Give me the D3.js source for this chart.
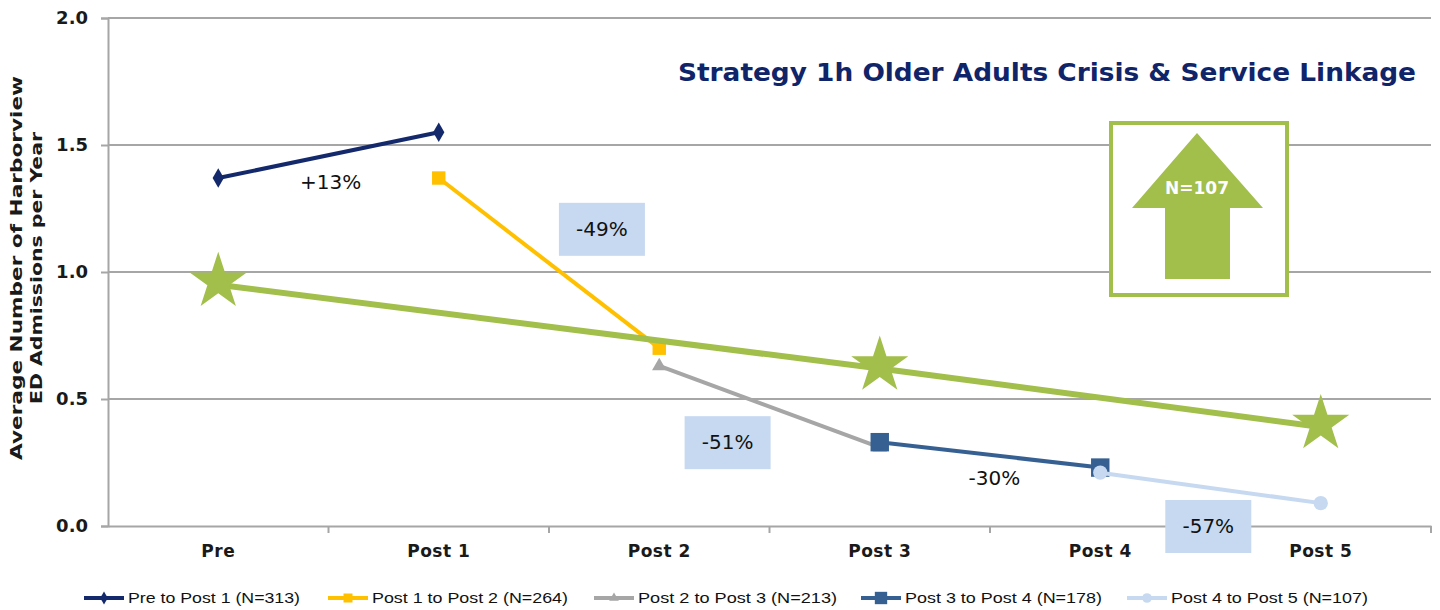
<!DOCTYPE html>
<html>
<head>
<meta charset="utf-8">
<script src="https://cdn.jsdelivr.net/npm/d3@7"></script>
<style>
  body { margin: 0; background: #fff; }
  svg { display: block; }
</style>
</head>
<body>
<div id="chart"></div>
<script>
// categories and values
const categories = ["Pre", "Post 1", "Post 2", "Post 3", "Post 4", "Post 5"];
const yTicks = [0, 0.5, 1.0, 1.5, 2.0];

const preToPost1 = [1.37, 1.55, null, null, null, null];
const post1ToPost2 = [null, 1.37, 0.70, null, null, null];
const post2ToPost3 = [null, null, 0.63, 0.31, null, null];
const post3ToPost4 = [null, null, null, 0.33, 0.23, null];
const post4ToPost5 = [null, null, null, null, 0.21, 0.09];
const trendN107 = [0.95, null, null, 0.62, null, 0.39];

const seriesNames = ["Pre to Post 1 (N=313)", "Post 1 to Post 2 (N=264)", "Post 2 to Post 3 (N=213)",
    "Post 3 to Post 4 (N=178)", "Post 4 to Post 5 (N=107)"];
const changeLabels = ["+13%", "-49%", "-51%", "-30%", "-57%"];
const changeBoxed = [false, true, true, false, true];

// styling
const series = [
    { values: preToPost1, color: "#13296b", symbol: d3.symbolDiamond, size: 110 },
    { values: post1ToPost2, color: "#ffc000", symbol: d3.symbolSquare, size: 180 },
    { values: post2ToPost3, color: "#a6a6a6", symbol: d3.symbolTriangle, size: 90 },
    { values: post3ToPost4, color: "#376092", symbol: d3.symbolSquare, size: 340 },
    { values: post4ToPost5, color: "#c6d9f1", symbol: d3.symbolCircle, size: 160 }
];
const green = "#a2be4b";

// where each change label sits: [category offset, y value]
const labelAnchor = [[0.51, 1.355], [1.74, 1.17], [2.31, 0.33], [3.52, 0.19], [4.49, 0.0]];

var width = 1440, height = 610;
var margin = { top: 18, right: 9, bottom: 84, left: 108 };
var font = "DejaVu Sans, Verdana, sans-serif";

var svg = d3.select("#chart").append("svg")
    .attr("width", width)
    .attr("height", height);

var x = d3.scaleBand()
    .domain(categories)
    .range([margin.left, width - margin.right])
    .padding(0);
var cx = function (i) { return x(categories[i]) + x.bandwidth() / 2; };

var y = d3.scaleLinear()
    .domain([0, 2])
    .range([height - margin.bottom, margin.top]);

// gridlines
svg.append("g")
    .selectAll("line")
    .data(yTicks.filter(d => d > 0))
    .enter().append("line")
    .attr("x1", margin.left)
    .attr("x2", width - margin.right)
    .attr("y1", d => y(d))
    .attr("y2", d => y(d))
    .style("stroke", "#a6a6a6")
    .style("stroke-width", 2);

// y axis
var yAxis = svg.append("g")
    .attr("transform", "translate(" + margin.left + ",0)")
    .call(d3.axisLeft(y).tickValues(yTicks).tickFormat(d3.format(".1f")).tickSize(7).tickPadding(13));
yAxis.select(".domain").style("stroke", "#a6a6a6").style("stroke-width", 2);
yAxis.selectAll(".tick line").style("stroke", "#a6a6a6").style("stroke-width", 2);
yAxis.selectAll("text")
    .style("font-family", font)
    .style("font-weight", "bold")
    .style("font-size", "18px")
    .style("fill", "#1a1a1a");

// x axis
var xAxis = svg.append("g")
    .attr("transform", "translate(0," + y(0) + ")")
    .call(d3.axisBottom(x).tickSize(0).tickPadding(19).tickSizeOuter(0));
xAxis.select(".domain").style("stroke", "#a6a6a6").style("stroke-width", 2);
xAxis.selectAll("text")
    .style("font-family", font)
    .style("font-weight", "bold")
    .style("font-size", "17px")
    .style("letter-spacing", "0.5px")
    .style("fill", "#1a1a1a");
xAxis.selectAll(".bound")
    .data(categories.map(c => x(c) + x.bandwidth()))
    .enter().append("line")
    .attr("class", "bound")
    .attr("x1", d => d).attr("x2", d => d)
    .attr("y1", 0).attr("y2", 7)
    .style("stroke", "#a6a6a6")
    .style("stroke-width", 2);

// y axis title
var yTitle = svg.append("text")
    .attr("transform", "translate(24," + (y(1) - 4) + ") rotate(-90)")
    .attr("text-anchor", "middle")
    .style("font-family", font)
    .style("font-weight", "bold")
    .style("font-size", "16px")
    .style("fill", "#1a1a1a");
yTitle.append("tspan").attr("x", 0).attr("dy", -2)
    .attr("textLength", 384).attr("lengthAdjust", "spacingAndGlyphs")
    .text("Average Number of Harborview");
yTitle.append("tspan").attr("x", 0).attr("dy", 20)
    .attr("textLength", 272).attr("lengthAdjust", "spacingAndGlyphs")
    .text("ED Admissions per Year");

// change label boxes
var labels = svg.append("g");
changeLabels.forEach(function (t, i) {
    var px = cx(0) + labelAnchor[i][0] * x.bandwidth();
    var py = y(labelAnchor[i][1]);
    if (changeBoxed[i]) {
        labels.append("rect")
            .attr("x", px - 43).attr("y", py - 26)
            .attr("width", 86).attr("height", 53)
            .style("fill", "#c6d9f1");
    }
    labels.append("text")
        .attr("x", px).attr("y", py)
        .attr("dy", "0.36em")
        .attr("text-anchor", "middle")
        .style("font-family", font)
        .style("font-size", "20px")
        .style("fill", "#111")
        .text(t);
});

// series lines + markers
var line = d3.line()
    .defined(d => d != null)
    .x((d, i) => cx(i))
    .y(d => y(d));

series.forEach(function (s) {
    svg.append("path")
        .datum(s.values)
        .attr("d", line)
        .style("fill", "none")
        .style("stroke", s.color)
        .style("stroke-width", 4);
    svg.append("g")
        .selectAll("path")
        .data(s.values.map((v, i) => ({ v: v, i: i })).filter(d => d.v != null))
        .enter().append("path")
        .attr("transform", d => "translate(" + cx(d.i) + "," + y(d.v) + ")")
        .attr("d", d3.symbol().type(s.symbol).size(s.size))
        .style("fill", s.color);
});

// green trend with stars (line drawn across the gaps)
var trendPts = trendN107.map((v, i) => ({ v: v, i: i })).filter(d => d.v != null);
svg.append("path")
    .datum(trendPts)
    .attr("d", d3.line().x(d => cx(d.i)).y(d => y(d.v)))
    .style("fill", "none")
    .style("stroke", green)
    .style("stroke-width", 6);
svg.append("g")
    .selectAll("path")
    .data(trendPts)
    .enter().append("path")
    .attr("transform", d => "translate(" + cx(d.i) + "," + (y(d.v) - 3) + ")")
    .attr("d", d3.symbol().type(d3.symbolStar).size(1010))
    .style("fill", green);

// title
svg.append("text")
    .attr("x", 1416).attr("y", 81)
    .attr("text-anchor", "end")
    .attr("textLength", 738).attr("lengthAdjust", "spacingAndGlyphs")
    .style("font-family", font)
    .style("font-weight", "bold")
    .style("font-size", "24px")
    .style("fill", "#10246a")
    .text("Strategy 1h Older Adults Crisis & Service Linkage");

// N=107 arrow box
var box = svg.append("g").attr("transform", "translate(1199,208)");
box.append("rect")
    .attr("x", -88).attr("y", -85)
    .attr("width", 176).attr("height", 172)
    .style("fill", "#fff")
    .style("stroke", green)
    .style("stroke-width", 4);
box.append("path")
    .attr("d", "M-2,-75 L64,0 L31,0 L31,71 L-34,71 L-34,0 L-67,0 Z")
    .style("fill", green);
box.append("text")
    .attr("x", -2).attr("y", -20)
    .attr("dy", "0.36em")
    .attr("text-anchor", "middle")
    .style("font-family", font)
    .style("font-weight", "bold")
    .style("font-size", "17px")
    .style("fill", "#fff")
    .text("N=107");

// legend
var legendX = [84, 328, 594, 861, 1127];
var legendW = [172, 196, 199, 197, 197];
var legend = svg.append("g").attr("transform", "translate(0,598)");
series.forEach(function (s, i) {
    var g = legend.append("g").attr("transform", "translate(" + legendX[i] + ",0)");
    g.append("line")
        .attr("x1", 0).attr("x2", 40)
        .style("stroke", s.color)
        .style("stroke-width", 4);
    g.append("path")
        .attr("transform", "translate(20,0)")
        .attr("d", d3.symbol().type(s.symbol).size(s.size * 0.45))
        .style("fill", s.color);
    g.append("text")
        .attr("x", 44)
        .attr("dy", "0.35em")
        .attr("textLength", legendW[i]).attr("lengthAdjust", "spacingAndGlyphs")
        .style("font-family", "Liberation Sans Narrow, Liberation Sans, sans-serif")
        .style("font-size", "15px")
        .style("fill", "#111")
        .text(seriesNames[i]);
});
</script>
</body>
</html>
